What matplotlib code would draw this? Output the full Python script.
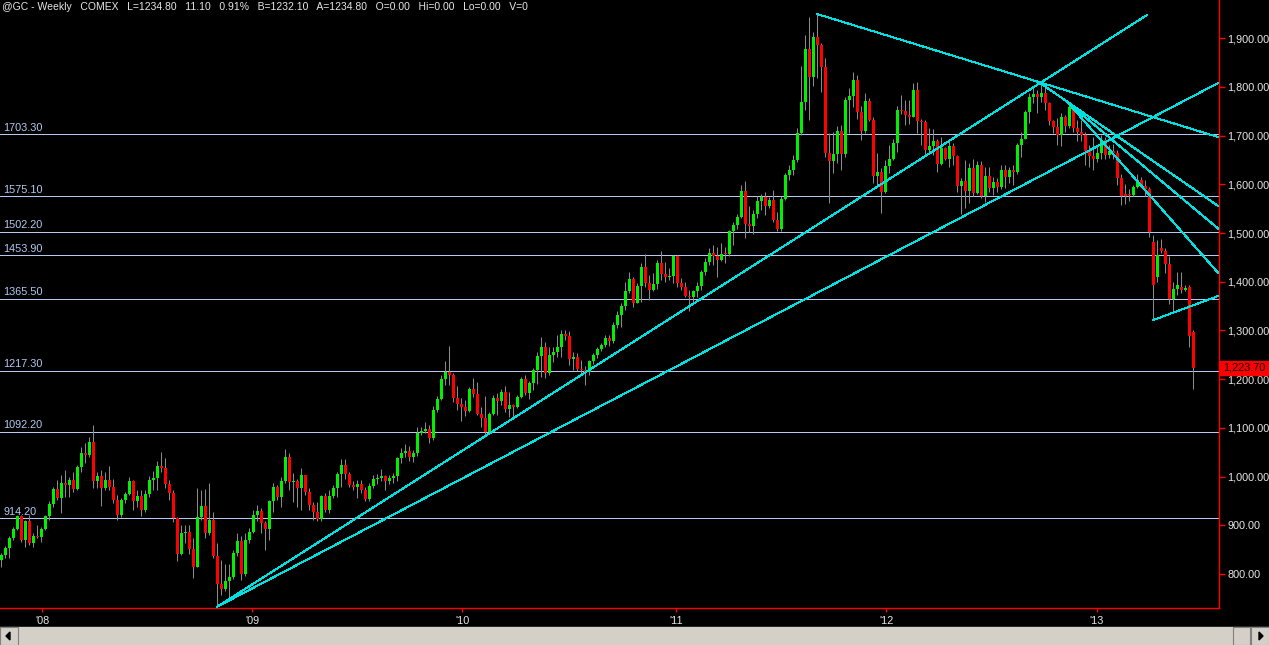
import matplotlib
matplotlib.use('Agg')
import matplotlib.pyplot as plt
import matplotlib.transforms as mtransforms
from matplotlib.patches import Rectangle, Polygon
from matplotlib.ticker import FuncFormatter
import numpy as np

plt.rcParams['font.family'] = ['Liberation Sans', 'DejaVu Sans']

# weekly @GC candles, Oct 2007 .. Jun 2013
first_open = 829
closes = [838, 854, 873, 892, 919, 870, 909, 863, 878, 875,
          892, 919, 944, 975, 956, 987, 983, 994, 975, 1020,
          1048, 1045, 1071, 990, 1001, 977, 993, 979, 952, 921,
          952, 964, 991, 950, 961, 931, 964, 993, 998, 1022,
          1018, 985, 966, 914, 842, 884, 886, 851, 815, 916,
          940, 884, 911, 837, 780, 769, 786, 794, 844, 868,
          801, 870, 887, 921, 930, 904, 892, 949, 979, 959,
          991, 1041, 988, 991, 976, 1003, 969, 942, 928, 912,
          960, 931, 960, 976, 1005, 1024, 1005, 983, 978, 985,
          972, 953, 981, 996, 998, 1001, 990, 997, 1001, 1038,
          1049, 1052, 1040, 1048, 1090, 1094, 1098, 1080, 1137, 1159,
          1200, 1215, 1209, 1162, 1149, 1142, 1135, 1180, 1170, 1128,
          1121, 1092, 1128, 1161, 1155, 1173, 1138, 1147, 1142, 1163,
          1200, 1171, 1193, 1219, 1248, 1265, 1213, 1250, 1255, 1265,
          1292, 1288, 1241, 1246, 1220, 1218, 1215, 1237, 1250, 1262,
          1270, 1285, 1278, 1311, 1332, 1350, 1380, 1406, 1357, 1391,
          1431, 1398, 1383, 1395, 1439, 1415, 1410, 1412, 1452, 1398,
          1390, 1371, 1368, 1380, 1391, 1421, 1441, 1458, 1453, 1445,
          1457, 1456, 1504, 1516, 1532, 1586, 1518, 1515, 1539, 1566,
          1573, 1555, 1568, 1527, 1508, 1569, 1619, 1629, 1650, 1706,
          1770, 1877, 1821, 1902, 1885, 1840, 1665, 1647, 1662, 1710,
          1662, 1773, 1781, 1814, 1749, 1710, 1771, 1733, 1618, 1626,
          1585, 1638, 1652, 1685, 1753, 1751, 1742, 1738, 1794, 1730,
          1727, 1670, 1679, 1688, 1642, 1674, 1653, 1679, 1658, 1597,
          1607, 1587, 1634, 1582, 1640, 1577, 1617, 1592, 1605, 1594,
          1629, 1616, 1629, 1626, 1681, 1694, 1749, 1779, 1785, 1780,
          1788, 1766, 1730, 1718, 1701, 1738, 1720, 1758, 1716, 1708,
          1701, 1668, 1658, 1652, 1664, 1691, 1660, 1668, 1664, 1612,
          1575, 1575, 1578, 1594, 1609, 1597, 1590, 1503, 1393, 1455,
          1464, 1436, 1364, 1386, 1393, 1383, 1388, 1289, 1223.7]
highs = [843, 858, 877, 896, 921, 921, 911, 921, 884, 901,
         897, 921, 949, 979, 993, 1003, 1014, 1000, 1010, 1024,
         1061, 1068, 1082, 1106, 1010, 1014, 1010, 1022, 996, 962,
         955, 969, 1000, 994, 972, 972, 972, 1001, 1011, 1031,
         1050, 1038, 993, 972, 916, 901, 901, 901, 873, 976,
         972, 975, 986, 928, 863, 829, 821, 821, 849, 884,
         877, 884, 894, 931, 942, 935, 908, 952, 986, 982,
         1000, 1056, 1048, 1007, 996, 1017, 1003, 976, 948, 947,
         962, 966, 972, 983, 1010, 1037, 1037, 1010, 990, 993,
         992, 979, 986, 1003, 1006, 1015, 1003, 1003, 1007, 1041,
         1058, 1067, 1063, 1055, 1102, 1102, 1113, 1106, 1144, 1165,
         1209, 1238, 1268, 1212, 1185, 1161, 1157, 1183, 1202, 1195,
         1143, 1165, 1133, 1167, 1171, 1179, 1185, 1174, 1150, 1168,
         1205, 1209, 1197, 1222, 1256, 1286, 1277, 1267, 1267, 1291,
         1300, 1301, 1298, 1256, 1253, 1239, 1226, 1239, 1253, 1267,
         1275, 1291, 1291, 1318, 1339, 1356, 1400, 1421, 1410, 1397,
         1438, 1457, 1414, 1417, 1445, 1464, 1441, 1428, 1455, 1455,
         1407, 1400, 1383, 1383, 1400, 1424, 1448, 1469, 1475, 1471,
         1479, 1471, 1506, 1523, 1539, 1599, 1607, 1556, 1547, 1575,
         1581, 1585, 1573, 1588, 1544, 1575, 1623, 1640, 1660, 1715,
         1843, 1907, 1944, 1913, 1950, 1891, 1859, 1706, 1708, 1720,
         1722, 1780, 1797, 1831, 1825, 1760, 1787, 1777, 1739, 1664,
         1633, 1650, 1681, 1694, 1760, 1783, 1773, 1774, 1807, 1811,
         1735, 1733, 1715, 1713, 1694, 1698, 1677, 1694, 1684, 1660,
         1612, 1650, 1643, 1653, 1647, 1647, 1636, 1636, 1616, 1612,
         1640, 1640, 1636, 1640, 1684, 1708, 1753, 1787, 1797, 1794,
         1807, 1804, 1770, 1733, 1736, 1746, 1742, 1766, 1763, 1732,
         1732, 1708, 1681, 1698, 1681, 1701, 1698, 1680, 1682, 1670,
         1622, 1600, 1590, 1599, 1622, 1616, 1609, 1595, 1496, 1486,
         1487, 1469, 1452, 1400, 1421, 1421, 1393, 1394, 1301]
lows = [815, 832, 832, 869, 890, 866, 856, 860, 856, 873,
        866, 890, 911, 937, 952, 925, 959, 959, 969, 972,
        1010, 1027, 1041, 976, 976, 940, 972, 972, 945, 911,
        918, 945, 962, 931, 938, 919, 928, 959, 972, 972,
        1010, 976, 952, 907, 827, 839, 863, 842, 791, 815,
        911, 873, 880, 832, 733, 757, 766, 747, 789, 836,
        788, 795, 863, 884, 908, 884, 849, 870, 928, 952,
        938, 986, 972, 948, 938, 931, 962, 931, 911, 909,
        909, 928, 925, 955, 959, 979, 996, 978, 972, 955,
        966, 950, 950, 976, 985, 990, 972, 985, 986, 990,
        1027, 1040, 1032, 1030, 1042, 1085, 1089, 1068, 1075, 1133,
        1157, 1188, 1188, 1154, 1137, 1115, 1124, 1133, 1164, 1126,
        1102, 1082, 1090, 1126, 1126, 1147, 1133, 1123, 1123, 1140,
        1161, 1167, 1159, 1178, 1191, 1205, 1202, 1209, 1236, 1246,
        1246, 1280, 1229, 1219, 1217, 1208, 1188, 1209, 1232, 1243,
        1258, 1267, 1268, 1274, 1306, 1308, 1342, 1376, 1349, 1356,
        1359, 1390, 1362, 1381, 1386, 1404, 1400, 1404, 1397, 1390,
        1383, 1369, 1339, 1356, 1369, 1383, 1414, 1434, 1434, 1410,
        1443, 1439, 1452, 1475, 1508, 1530, 1489, 1503, 1499, 1530,
        1547, 1537, 1551, 1523, 1505, 1505, 1568, 1609, 1620, 1645,
        1701, 1753, 1732, 1802, 1818, 1790, 1657, 1561, 1623, 1643,
        1629, 1657, 1706, 1759, 1735, 1691, 1705, 1729, 1602, 1595,
        1542, 1582, 1623, 1650, 1667, 1745, 1722, 1724, 1738, 1705,
        1681, 1660, 1664, 1660, 1626, 1640, 1650, 1636, 1640, 1585,
        1540, 1551, 1561, 1575, 1580, 1571, 1564, 1585, 1578, 1585,
        1590, 1592, 1602, 1599, 1622, 1657, 1694, 1725, 1766, 1746,
        1770, 1753, 1722, 1705, 1681, 1679, 1708, 1715, 1708, 1688,
        1688, 1640, 1636, 1629, 1646, 1653, 1653, 1655, 1652, 1598,
        1557, 1560, 1565, 1575, 1592, 1595, 1575, 1492, 1321, 1400,
        1460, 1417, 1354, 1339, 1373, 1376, 1380, 1267, 1179]
# weeks that opened away from the prior close
open_gaps = {281: 1581, 282: 1581, 288: 1482, 289: 1409, 290: 1469,
             295: 1390, 297: 1390, 298: 1296}

levels = [1703.30, 1575.10, 1502.20, 1453.90, 1365.50, 1217.30, 1092.20, 914.20]
price_ticks = [800, 900, 1000, 1100, 1200, 1300, 1400, 1500, 1600, 1700, 1800, 1900]
year_pos = [10.2, 62.7, 115.2, 168.7, 221.2, 273.9]
year_labels = ["'08", "'09", "'10", "'11", "'12", "'13"]

# trend lines: (week, price) -> (week, price)
trend_lines = [
    ((54, 733), (286.4, 1947.6)),
    ((54, 733), (304.2, 1808)),
    ((203.9, 1949.7), (304.2, 1697)),
    ((259.7, 1808), (304.2, 1555.5)),
    ((266.7, 1767), (304.2, 1509)),
    ((266.7, 1767), (304.2, 1418)),
    ((288, 1321.5), (304.2, 1370.7)),
]

header = ("@GC - Weekly   COMEX   L=1234.80   11.10   0.91%   B=1232.10   "
          "A=1234.80   O=0.00   Hi=0.00   Lo=0.00   V=0")

n = len(closes)
opens = [first_open] + closes[:-1]
for k, v in open_gaps.items():
    opens[k] = v
opens = np.array(opens, dtype=float)
closes_a = np.array(closes, dtype=float)
x = np.arange(n)

W, H = 1269, 645
fig = plt.figure(figsize=(W / 100, H / 100), dpi=100)
fig.patch.set_facecolor('black')
ax = fig.add_axes([0, 1 - 608 / H, 1219 / W, 608 / H])
ax.set_facecolor('black')
ax.set_xlim(-0.33, 304.4)
ax.set_ylim(730.2, 1978.4)

lvl_col = '#b4c8f0'
for lv in levels:
    ax.axhline(lv, color=lvl_col, lw=0.72, zorder=1, antialiased=False)
    ax.text(0.5, lv + 3, f'{lv:.2f}', color=lvl_col, fontsize=7.8,
            va='bottom', ha='left', zorder=1)

for (x0, y0), (x1, y1) in trend_lines:
    ax.plot([x0, x1], [y0, y1], color='#00e0e0', lw=0.72, zorder=4,
            antialiased=False, clip_on=False)

# candles
ax.vlines(x, lows, highs, color='#8a8a8a', lw=0.75, zorder=2)
up = closes_a >= opens
cols = np.where(up, '#00f000', '#ff0000')
bottoms = np.minimum(opens, closes_a)
heights = np.maximum(np.abs(closes_a - opens), 2.0)
ax.bar(x, heights, bottom=bottoms, width=0.75, color=cols, linewidth=0, zorder=3)

# axes styling
for s in ['top', 'left']:
    ax.spines[s].set_visible(False)
for s in ['right', 'bottom']:
    ax.spines[s].set_color('red')
    ax.spines[s].set_linewidth(1)
ax.yaxis.tick_right()
ax.set_yticks(price_ticks)
ax.yaxis.set_major_formatter(FuncFormatter(lambda v, p: f'{v:,.2f}'))
ax.tick_params(axis='y', colors='red', labelcolor='#e6e6e6', length=4,
               width=1, pad=2, labelsize=7.8)
ax.set_xticks(year_pos)
ax.set_xticklabels(year_labels)
ax.tick_params(axis='x', colors='red', labelcolor='#e6e6e6', length=3,
               width=1, pad=3, labelsize=7.8)

ax.text(0.002, 0.997, header, transform=ax.transAxes, color='#e6e6e6',
        fontsize=7.5, va='top', ha='left')

# last price marker
last = closes[-1]
tr = mtransforms.blended_transform_factory(ax.transAxes, ax.transData)
ax.add_patch(Rectangle((1.0, last - 14.5), 50 / 1219, 29, transform=tr,
                       color='#ff0000', clip_on=False, zorder=5))
ax.text(1.0 + 25 / 1219, last, f'{last:,.2f}', transform=tr, color='black',
        fontsize=7.8, ha='center', va='center', zorder=6, clip_on=False)

# scrollbar strip
fy = lambda py: 1 - py / H
fx = lambda px: px / W
fig.add_artist(Rectangle((0, 0), 1, fy(627), transform=fig.transFigure,
                         color='#d4d0c8', zorder=0))
for bx in (0, 1251):
    fig.add_artist(Rectangle((fx(bx), 0), fx(18), fy(627), transform=fig.transFigure,
                             facecolor='#d4d0c8', edgecolor='#808080', lw=0.8))
fig.add_artist(Rectangle((fx(1233), 0), fx(17), fy(627), transform=fig.transFigure,
                         facecolor='#d4d0c8', edgecolor='#808080', lw=0.8))
fig.add_artist(Polygon([(fx(6), fy(636)), (fx(10), fy(632)), (fx(10), fy(640))],
                       closed=True, transform=fig.transFigure, color='black'))
fig.add_artist(Polygon([(fx(1263), fy(636)), (fx(1259), fy(632)), (fx(1259), fy(640))],
                       closed=True, transform=fig.transFigure, color='black'))

fig.savefig('out.png', dpi=100, facecolor='black')
